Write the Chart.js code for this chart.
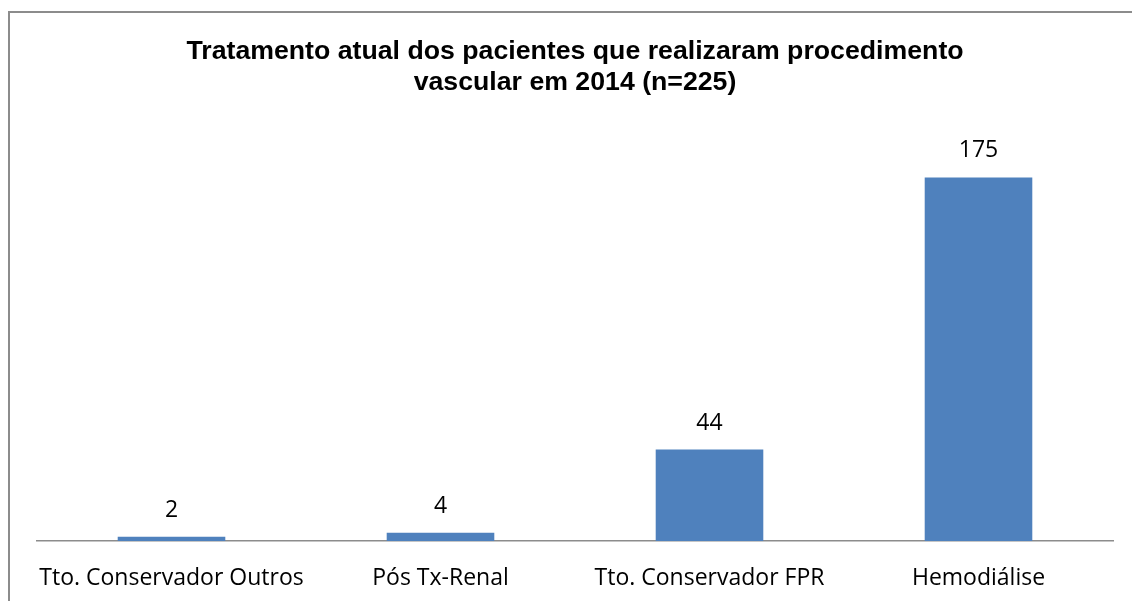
<!DOCTYPE html>
<html>
<head>
<meta charset="utf-8">
<script src="https://cdn.jsdelivr.net/npm/chart.js@4"></script>
<style>
  html, body { margin: 0; padding: 0; background: #fff; overflow: hidden; }
  .frame { position: absolute; left: 8px; top: 11px; width: 1140px; height: 620px; border: 2px solid #8c8c8c; box-sizing: border-box; }
  canvas { position: absolute; left: 0; top: 0; }
</style>
</head>
<body>
<div class="frame"></div>
<canvas id="chart" width="1132" height="601"></canvas>
<script>
const titleLines = ['Tratamento atual dos pacientes que realizaram procedimento', 'vascular em 2014 (n=225)'];
const categories = ['Tto. Conservador Outros', 'Pós Tx-Renal', 'Tto. Conservador FPR', 'Hemodiálise'];
const patients = [2, 4, 44, 175];

// draws the numbers above each bar
const valueLabels = {
    id: 'valueLabels',
    afterDatasetsDraw(chart) {
        const ctx = chart.ctx;
        ctx.save();
        ctx.font = '23px "Open Sans", sans-serif';
        ctx.fillStyle = '#000';
        ctx.textAlign = 'center';
        ctx.textBaseline = 'alphabetic';
        chart.getDatasetMeta(0).data.forEach((bar, i) => {
            ctx.fillText(String(patients[i]), bar.x, bar.y - 20);
        });
        ctx.restore();
    }
};

new Chart(document.getElementById('chart').getContext('2d'), {
    type: 'bar',
    data: {
        labels: categories,
        datasets: [{
            data: patients,
            backgroundColor: '#4f81bd',
            borderWidth: 0,
            categoryPercentage: 1,
            barPercentage: 0.4
        }]
    },
    options: {
        responsive: false,
        animation: false,
        layout: { padding: { left: 37, right: 19, top: 0, bottom: 0 } },
        plugins: {
            legend: { display: false },
            tooltip: { enabled: false },
            title: {
                display: true,
                text: titleLines,
                color: '#000',
                font: { family: '"Liberation Sans", Arial, sans-serif', size: 26.7, weight: 'bold', lineHeight: 1.17 },
                padding: { top: 36, bottom: 27 }
            }
        },
        scales: {
            x: {
                grid: { display: false },
                border: { color: '#8c8c8c', width: 1.5 },
                ticks: {
                    color: '#000',
                    padding: 16,
                    font: { family: '"Open Sans", sans-serif', size: 23 },
                    maxRotation: 0
                },
                afterFit(scale) {
                    scale.height = 60;
                }
            },
            y: {
                display: false,
                min: 0,
                max: 200
            }
        }
    },
    plugins: [valueLabels]
});
</script>
</body>
</html>
